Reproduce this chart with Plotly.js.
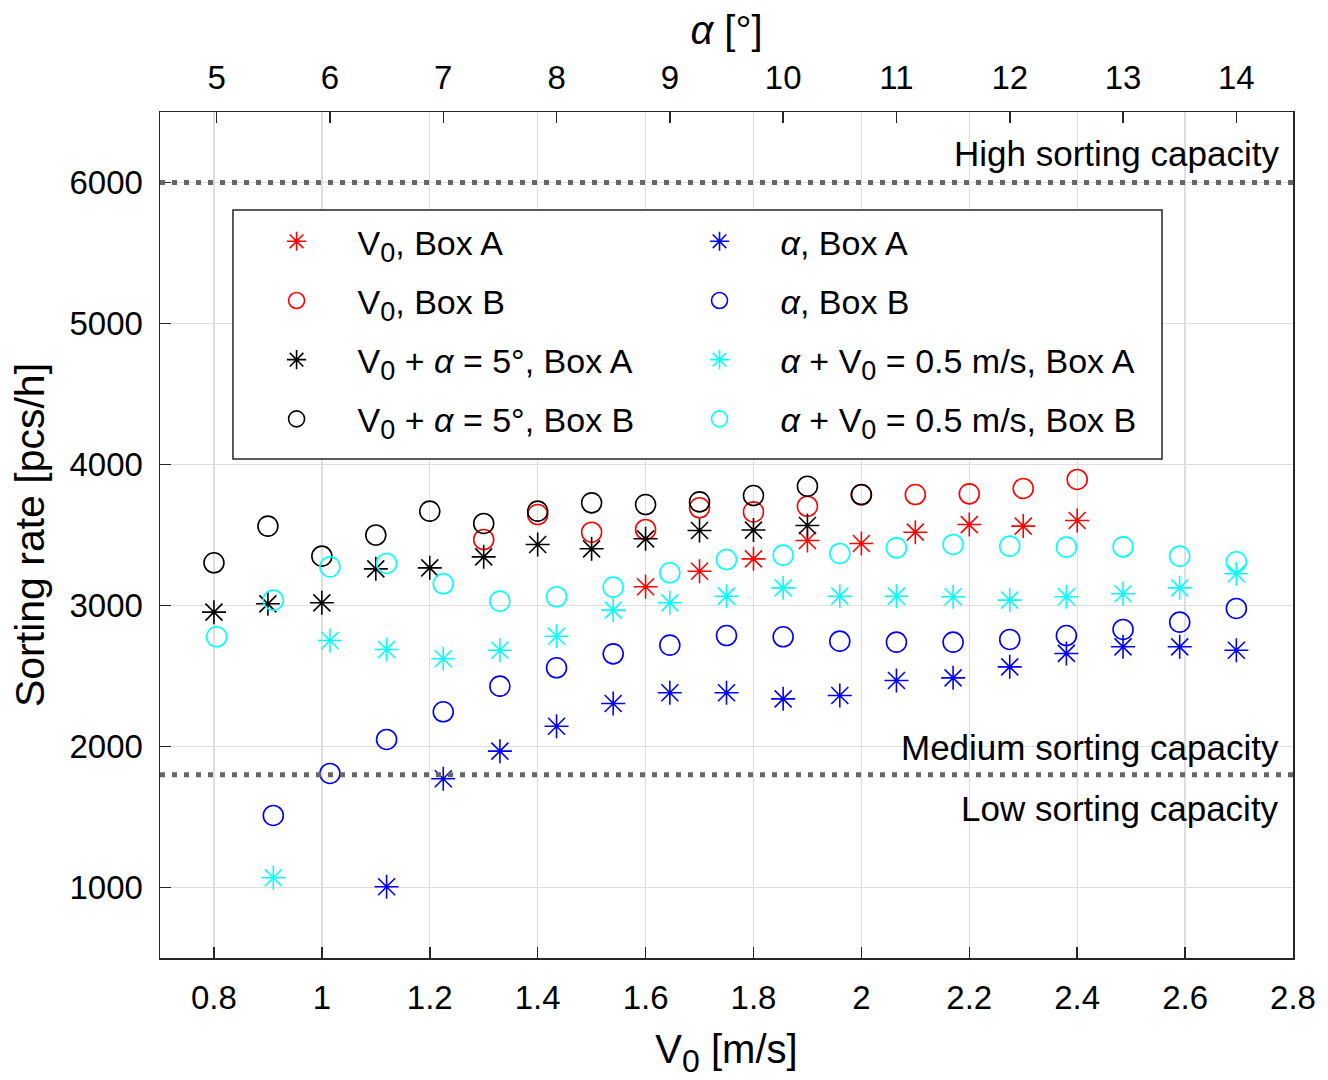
<!DOCTYPE html>
<html>
<head>
<meta charset="utf-8">
<script src="https://cdn.plot.ly/plotly-3.0.1.min.js"></script>
<style>
  html, body { margin: 0; padding: 0; background: #ffffff; }
  #chart { width: 1328px; height: 1080px; }
</style>
</head>
<body>
<div id="chart"></div>
<script>
// Sorting rate measured against conveyor speed V0 (bottom axis) and inclination α (top axis)

// V0 sweeps (bottom axis, m/s)
const v0BoxA_speed = [1.6, 1.7, 1.8, 1.9, 2.0, 2.1, 2.2, 2.3, 2.4];
const v0BoxA_rate  = [3133, 3243, 3331, 3461, 3440, 3520, 3574, 3563, 3603];

const v0BoxB_speed = [1.3, 1.4, 1.5, 1.6, 1.7, 1.8, 1.9, 2.0, 2.1, 2.2, 2.3, 2.4];
const v0BoxB_rate  = [3468, 3645, 3520, 3539, 3693, 3664, 3704, 3785, 3787, 3792, 3830, 3894];

const v0Alpha5BoxA_speed = [0.8, 0.9, 1.0, 1.1, 1.2, 1.3, 1.4, 1.5, 1.6, 1.7, 1.8, 1.9];
const v0Alpha5BoxA_rate  = [2953, 3012, 3019, 3260, 3267, 3345, 3433, 3402, 3473, 3532, 3535, 3567];

const v0Alpha5BoxB_speed = [0.8, 0.9, 1.0, 1.1, 1.2, 1.3, 1.4, 1.5, 1.6, 1.7, 1.8, 1.9, 2.0];
const v0Alpha5BoxB_rate  = [3303, 3563, 3350, 3500, 3669, 3582, 3669, 3728, 3716, 3735, 3780, 3846, 3787];

// α sweeps (top axis, degrees)
const alphaBoxA_angle = [6.5, 7, 7.5, 8, 8.5, 9, 9.5, 10, 10.5, 11, 11.5, 12, 12.5, 13, 13.5, 14];
const alphaBoxA_rate  = [1005, 1771, 1967, 2144, 2305, 2381, 2381, 2338, 2362, 2468, 2487, 2565, 2660, 2707, 2707, 2683];

const alphaBoxB_angle = [5.5, 6, 6.5, 7, 7.5, 8, 8.5, 9, 9.5, 10, 10.5, 11, 11.5, 12, 12.5, 13, 13.5, 14];
const alphaBoxB_rate  = [1511, 1809, 2050, 2246, 2428, 2558, 2657, 2719, 2787, 2778, 2747, 2740, 2740, 2759, 2787, 2830, 2882, 2979];

const alphaV05BoxA_angle = [5.5, 6, 6.5, 7, 7.5, 8, 8.5, 9, 9.5, 10, 10.5, 11, 11.5, 12, 12.5, 13, 13.5, 14];
const alphaV05BoxA_rate  = [1069, 2752, 2688, 2622, 2683, 2782, 2967, 3019, 3066, 3125, 3066, 3066, 3062, 3038, 3062, 3083, 3125, 3225];

const alphaV05BoxB_angle = [5, 5.5, 6, 6.5, 7, 7.5, 8, 8.5, 9, 9.5, 10, 10.5, 11, 11.5, 12, 12.5, 13, 13.5, 14];
const alphaV05BoxB_rate  = [2778, 3038, 3274, 3298, 3154, 3031, 3062, 3130, 3232, 3326, 3357, 3369, 3409, 3433, 3421, 3414, 3416, 3350, 3310];

// Capacity thresholds and their labels
const capacityLevels = [6000, 1800];
const capacityLabelsAbove = ['High sorting capacity', 'Medium sorting capacity'];
const capacityLabelBelow = 'Low sorting capacity';

// Axis ticks
const speedTicks = [0.8, 1, 1.2, 1.4, 1.6, 1.8, 2, 2.2, 2.4, 2.6, 2.8];
const speedTickText = ['0.8', '1', '1.2', '1.4', '1.6', '1.8', '2', '2.2', '2.4', '2.6', '2.8'];
const angleTicks = [5, 6, 7, 8, 9, 10, 11, 12, 13, 14];
const rateTicks = [1000, 2000, 3000, 4000, 5000, 6000];

const FONT = 'Liberation Sans, Arial, Helvetica, sans-serif';
const AXIS_COLOR = '#262626';
const GRID_COLOR = '#dedede';
const MS = 20;

// V with a large, well-lowered zero subscript
const V0 = 'V<sub><span style="font-size:27px">0</span></sub>';
const V0_TITLE = 'V<sub><span style="font-size:32px">0</span></sub>';

function series(x, y, xaxis, name, color, symbol, legend) {
  return {
    type: 'scatter', mode: 'markers', x: x, y: y, xaxis: xaxis, yaxis: 'y',
    name: name, legend: legend, legendgroup: name,
    marker: { symbol: symbol, size: MS, color: color, line: { color: color, width: 1.6 } }
  };
}

const traces = [
  series(v0BoxA_speed, v0BoxA_rate, 'x', V0 + ', Box A', '#ff0000', 'asterisk-open', 'legend'),
  series(v0BoxB_speed, v0BoxB_rate, 'x', V0 + ', Box B', '#ff0000', 'circle-open', 'legend'),
  series(v0Alpha5BoxA_speed, v0Alpha5BoxA_rate, 'x', V0 + ' + <i>α</i> = 5°, Box A', '#000000', 'asterisk-open', 'legend'),
  series(v0Alpha5BoxB_speed, v0Alpha5BoxB_rate, 'x', V0 + ' + <i>α</i> = 5°, Box B', '#000000', 'circle-open', 'legend'),
  series(alphaBoxA_angle, alphaBoxA_rate, 'x2', '<i>α</i>, Box A', '#0000ff', 'asterisk-open', 'legend2'),
  series(alphaBoxB_angle, alphaBoxB_rate, 'x2', '<i>α</i>, Box B', '#0000ff', 'circle-open', 'legend2'),
  series(alphaV05BoxA_angle, alphaV05BoxA_rate, 'x2', '<i>α</i> + ' + V0 + ' = 0.5 m/s, Box A', '#00ffff', 'asterisk-open', 'legend2'),
  series(alphaV05BoxB_angle, alphaV05BoxB_rate, 'x2', '<i>α</i> + ' + V0 + ' = 0.5 m/s, Box B', '#00ffff', 'circle-open', 'legend2')
];

// dotted threshold lines across the full plot width
const shapes = capacityLevels.map(level => ({
  type: 'line', xref: 'paper', x0: 0, x1: 1, yref: 'y', y0: level, y1: level,
  line: { color: '#666666', width: 5, dash: '5px,7px' }, layer: 'above'
}));
// white legend panel with frame
shapes.push({
  type: 'rect', xref: 'paper', yref: 'paper',
  x0: 0.0644, x1: 0.8844, y0: 0.5898, y1: 0.8842,
  fillcolor: '#ffffff', line: { color: AXIS_COLOR, width: 1.5 }, layer: 'above'
});

const annotations = [
  { text: capacityLabelsAbove[0], y: capacityLevels[0], yanchor: 'bottom', yshift: 8 },
  { text: capacityLabelsAbove[1], y: capacityLevels[1], yanchor: 'bottom', yshift: 6 },
  { text: capacityLabelBelow, y: capacityLevels[1], yanchor: 'top', yshift: -12 }
].map(a => Object.assign({
  xref: 'paper', x: 0.9895, xanchor: 'right', yref: 'y', showarrow: false,
  font: { family: FONT, size: 35, color: '#000000' }
}, a));

const legendCommon = {
  xanchor: 'left', yanchor: 'top', bgcolor: 'rgba(0,0,0,0)', borderwidth: 0,
  font: { family: FONT, size: 34, color: '#000000' },
  tracegroupgap: 12, itemwidth: 112, itemclick: false, itemdoubleclick: false
};

const layout = {
  width: 1328, height: 1080,
  margin: { l: 160, r: 35, t: 112, b: 122, pad: 0 },
  paper_bgcolor: '#ffffff', plot_bgcolor: '#ffffff',
  font: { family: FONT, color: '#000000' },
  showlegend: true,
  legend: Object.assign({ x: 0.0667, y: 0.8810 }, legendCommon),
  legend2: Object.assign({ x: 0.440, y: 0.8810 }, legendCommon),
  xaxis: {
    range: [0.7, 2.8], tickvals: speedTicks, ticktext: speedTickText,
    ticks: 'inside', ticklen: 11, tickwidth: 1.5, tickcolor: AXIS_COLOR,
    showline: true, linecolor: AXIS_COLOR, linewidth: 1.5, mirror: false,
    showgrid: true, gridcolor: GRID_COLOR, gridwidth: 1.3, zeroline: false,
    tickfont: { family: FONT, size: 33, color: '#000000' }, ticklabelstandoff: 10,
    title: { text: V0_TITLE + ' [m/s]', font: { family: FONT, size: 40, color: '#000000' }, standoff: 20 }
  },
  xaxis2: {
    overlaying: 'x', side: 'top', anchor: 'y', range: [4.5, 14.5], tickvals: angleTicks,
    ticks: 'inside', ticklen: 11, tickwidth: 1.5, tickcolor: AXIS_COLOR,
    showline: true, linecolor: AXIS_COLOR, linewidth: 1.5,
    showgrid: false, zeroline: false,
    tickfont: { family: FONT, size: 33, color: '#000000' }, ticklabelstandoff: 8,
    title: { text: '<i>α</i> [°]', font: { family: FONT, size: 40, color: '#000000' }, standoff: 2 }
  },
  yaxis: {
    range: [500, 6500], tickvals: rateTicks,
    ticks: 'inside', ticklen: 11, tickwidth: 1.5, tickcolor: AXIS_COLOR,
    showline: true, linecolor: AXIS_COLOR, linewidth: 1.5, mirror: true,
    showgrid: true, gridcolor: GRID_COLOR, gridwidth: 1.3, zeroline: false,
    tickfont: { family: FONT, size: 33, color: '#000000' }, ticklabelstandoff: 9,
    title: { text: 'Sorting rate [pcs/h]', font: { family: FONT, size: 41, color: '#000000' }, standoff: 12 }
  },
  shapes: shapes,
  annotations: annotations
};

Plotly.newPlot('chart', traces, layout, { displayModeBar: false, staticPlot: true });
</script>
</body>
</html>
